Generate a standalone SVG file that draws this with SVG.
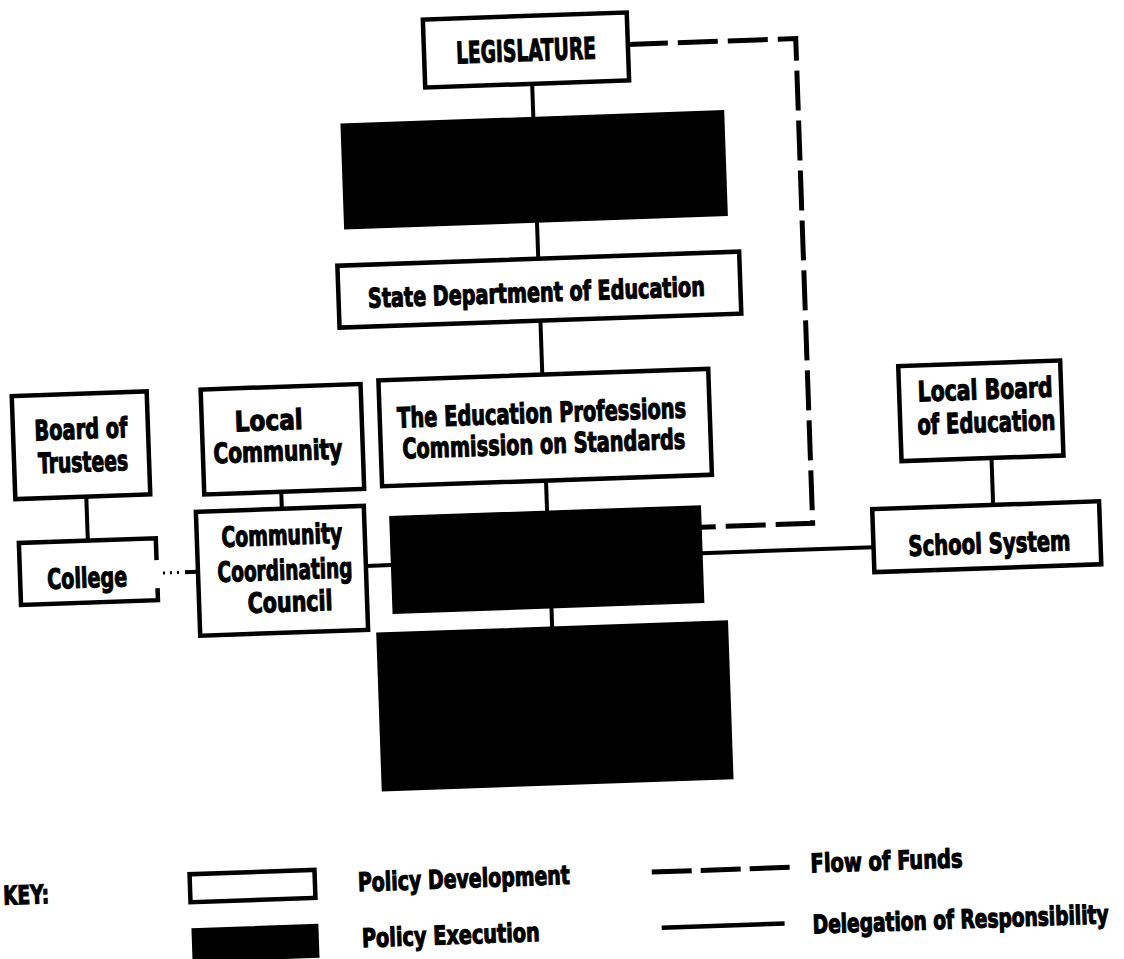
<svg xmlns="http://www.w3.org/2000/svg" width="1124" height="959" viewBox="0 0 1124 959">
<style>
.box{fill:#fff;stroke:#000;stroke-width:4.5}
.exec{fill:#000;stroke:#000;stroke-width:2}
.conn{stroke:#000;stroke-width:4;fill:none}
.funds{stroke:#000;stroke-width:5;fill:none;stroke-dasharray:40 10}
.dots{stroke:#000;stroke-width:3;fill:none;stroke-dasharray:2 5}
text{font-family:"Liberation Sans Narrow","DejaVu Sans Condensed","Liberation Sans",Arial,sans-serif;font-weight:bold;font-size:28px;fill:#000;stroke:#000;stroke-width:1.1}
.c{text-anchor:middle}
.k{font-size:26px}
</style>
<rect width="1124" height="959" fill="#fff"/>
<g transform="rotate(-2 562 480)">
<g id="connectors">
<line class="conn" x1="546" y1="83" x2="546" y2="117"/>
<line class="conn" x1="546" y1="221" x2="546" y2="258"/>
<line class="conn" x1="546" y1="320" x2="546" y2="374"/>
<line class="conn" x1="546" y1="480" x2="546" y2="511"/>
<line class="conn" x1="547" y1="607" x2="547" y2="627"/>
<line class="conn" x1="86" y1="480" x2="86" y2="524"/>
<line class="conn" x1="281" y1="482" x2="281" y2="499"/>
<line class="conn" x1="363" y1="559" x2="389" y2="559"/>
<line class="conn" x1="699" y1="558" x2="871" y2="558"/>
<line class="conn" x1="992" y1="473" x2="992" y2="520"/>
<path class="funds" d="M643 47 H811 V532 H699"/>
<line class="dots" x1="160" y1="559" x2="180" y2="559"/>
<line class="conn" x1="182" y1="559" x2="195" y2="559"/>
</g>
<g id="legislature">
<rect class="box" x="439" y="15" width="204" height="68"/>
<text class="c" x="541" y="60" style="font-size:30px" textLength="140" lengthAdjust="spacingAndGlyphs">LEGISLATURE</text>
</g>
<g id="exec-top">
<rect class="exec" x="354" y="117" width="382" height="104"/>
</g>
<g id="state-dept">
<rect class="box" x="345" y="258" width="402" height="62"/>
<text class="c" x="543" y="301" style="font-size:27px" textLength="337" lengthAdjust="spacingAndGlyphs">State Department of Education</text>
</g>
<g id="epcs">
<rect class="box" x="382" y="374" width="330" height="106"/>
<text class="c" x="544" y="422" textLength="289" lengthAdjust="spacingAndGlyphs">The Education Professions</text>
<text class="c" x="545" y="453" textLength="283" lengthAdjust="spacingAndGlyphs">Commission on Standards</text>
</g>
<g id="exec-mid">
<rect class="exec" x="389" y="511" width="310" height="96"/>
</g>
<g id="exec-bottom">
<rect class="exec" x="372" y="627" width="350" height="157"/>
</g>
<g id="board-of-trustees">
<rect class="box" x="15" y="377" width="135" height="103"/>
<text class="c" x="83" y="422" textLength="93" lengthAdjust="spacingAndGlyphs">Board of</text>
<text class="c" x="84" y="455" textLength="90" lengthAdjust="spacingAndGlyphs">Trustees</text>
</g>
<g id="college">
<path class="box" d="M154 546 V524 H17 V586 H154 V574"/>
<text class="c" x="84" y="571" textLength="80" lengthAdjust="spacingAndGlyphs">College</text>
</g>
<g id="local-community">
<rect class="box" x="204" y="377" width="160" height="105"/>
<text class="c" x="271" y="420" textLength="68" lengthAdjust="spacingAndGlyphs">Local</text>
<text class="c" x="279" y="451" textLength="129" lengthAdjust="spacingAndGlyphs">Community</text>
</g>
<g id="community-coordinating-council">
<rect class="box" x="195" y="499" width="168" height="124"/>
<text class="c" x="280" y="535" textLength="121" lengthAdjust="spacingAndGlyphs">Community</text>
<text class="c" x="282" y="570" textLength="135" lengthAdjust="spacingAndGlyphs">Coordinating</text>
<text class="c" x="286" y="602" textLength="85" lengthAdjust="spacingAndGlyphs">Council</text>
</g>
<g id="local-board">
<rect class="box" x="902" y="378" width="162" height="95"/>
<text class="c" x="988" y="414" textLength="135" lengthAdjust="spacingAndGlyphs">Local Board</text>
<text class="c" x="988" y="447" textLength="138" lengthAdjust="spacingAndGlyphs">of Education</text>
</g>
<g id="school-system">
<rect class="box" x="871" y="520" width="227" height="63"/>
<text class="c" x="987" y="568" textLength="162" lengthAdjust="spacingAndGlyphs">School System</text>
</g>
<g id="key">
<text class="k c" x="12" y="885" textLength="46" lengthAdjust="spacingAndGlyphs">KEY:</text>
<rect class="box" x="176" y="861" width="125" height="28"/>
<rect class="exec" x="177" y="916" width="125" height="32"/>
<text class="k" x="344" y="884" textLength="212" lengthAdjust="spacingAndGlyphs">Policy Development</text>
<text class="k" x="346" y="940" textLength="178" lengthAdjust="spacingAndGlyphs">Policy Execution</text>
<line class="funds" x1="638" y1="875" x2="777" y2="875" style="stroke-dasharray:40 9"/>
<line class="conn" x1="646" y1="931" x2="769" y2="931" style="stroke-width:4.5"/>
<text class="k" x="797" y="881" textLength="152" lengthAdjust="spacingAndGlyphs">Flow of Funds</text>
<text transform="scale(1 1.2)" x="797" y="785" style="font-size:21.5px;stroke-width:1" textLength="296" lengthAdjust="spacingAndGlyphs">Delegation of Responsibility</text>
</g>
</g>
</svg>
